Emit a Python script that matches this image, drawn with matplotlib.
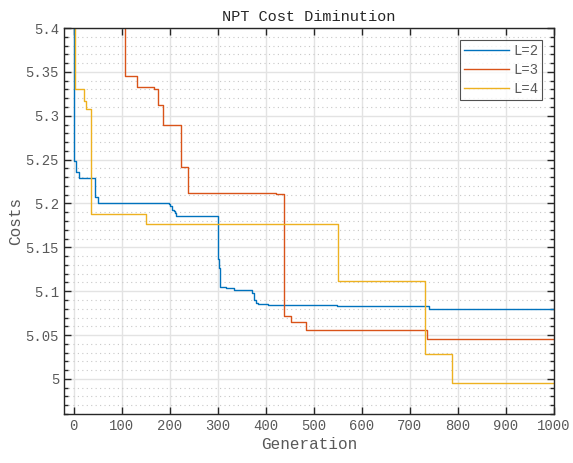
import matplotlib
matplotlib.use('Agg')
import matplotlib.pyplot as plt
from matplotlib.ticker import MultipleLocator, FuncFormatter

matplotlib.rcParams['font.family'] = 'Liberation Mono'

# step curves (generation where the new cost starts, cost)
gen_l2 = [0, 1, 6, 12, 44, 51, 199, 201, 204, 208, 212, 214, 300, 301, 302, 305,
          318, 334, 372, 376, 380, 384, 405, 548, 740, 1000]
cost_l2 = [5.60, 5.248, 5.236, 5.229, 5.207, 5.201, 5.199, 5.197, 5.193, 5.191, 5.189,
           5.186, 5.157, 5.137, 5.126, 5.105, 5.1035, 5.1015, 5.098, 5.090, 5.087,
           5.085, 5.084, 5.0826, 5.080, 5.080]

gen_l3 = [0, 106, 133, 167, 176, 187, 223, 238, 421, 438, 452, 484, 735, 1000]
cost_l3 = [5.45, 5.345, 5.333, 5.331, 5.312, 5.290, 5.242, 5.212, 5.211, 5.072,
           5.065, 5.0555, 5.045, 5.045]

gen_l4 = [0, 3, 22, 25, 37, 151, 551, 731, 787, 1000]
cost_l4 = [5.50, 5.330, 5.317, 5.308, 5.188, 5.177, 5.1115, 5.0286, 4.995, 4.995]

labels = ['L=2', 'L=3', 'L=4']
colors = ['#0072BD', '#D95319', '#EDB120']

fig = plt.figure(figsize=(5.73, 4.63), dpi=100)
ax = fig.add_axes([0.1117, 0.1058, 0.8551, 0.8337])

for g, c, lab, col in zip([gen_l2, gen_l3, gen_l4], [cost_l2, cost_l3, cost_l4], labels, colors):
    ax.plot(g, c, drawstyle='steps-post', color=col, linewidth=1.0, label=lab)

ax.set_xlim(-20, 1000)
ax.set_ylim(4.96, 5.4)
ax.xaxis.set_major_locator(MultipleLocator(100))
ax.yaxis.set_major_locator(MultipleLocator(0.05))
ax.yaxis.set_minor_locator(MultipleLocator(0.01))
ax.yaxis.set_major_formatter(FuncFormatter(lambda v, p: ('%.2f' % v).rstrip('0').rstrip('.')))

ax.grid(which='major', color='#e3e3e3', linewidth=1.0, linestyle='-')
ax.grid(which='minor', axis='y', color='#c8c8c8', linewidth=0.8, linestyle=(0, (1, 3)))
ax.set_axisbelow(True)

ax.tick_params(which='both', direction='in', top=True, right=True, colors='#262626',
               labelcolor='#595959', labelsize=10)
ax.tick_params(which='major', length=5, width=1)
ax.tick_params(which='minor', length=3, width=1)
for s in ax.spines.values():
    s.set_color('#262626')
    s.set_linewidth(1.0)

ax.set_title('NPT Cost Diminution', fontsize=11, color='#262626', pad=5)
ax.set_xlabel('Generation', fontsize=11.5, color='#595959', labelpad=3)
ax.set_ylabel('Costs', fontsize=11.5, color='#595959', labelpad=2)

leg = ax.legend(loc='upper right', fontsize=10, frameon=True, fancybox=False,
                handlelength=3.2, handletextpad=0.3, borderpad=0.3,
                borderaxespad=0.85, labelspacing=0.35)
leg.get_frame().set_edgecolor('#262626')
leg.get_frame().set_linewidth(0.8)
for t in leg.get_texts():
    t.set_color('#595959')

fig.savefig('out.png', dpi=100)
